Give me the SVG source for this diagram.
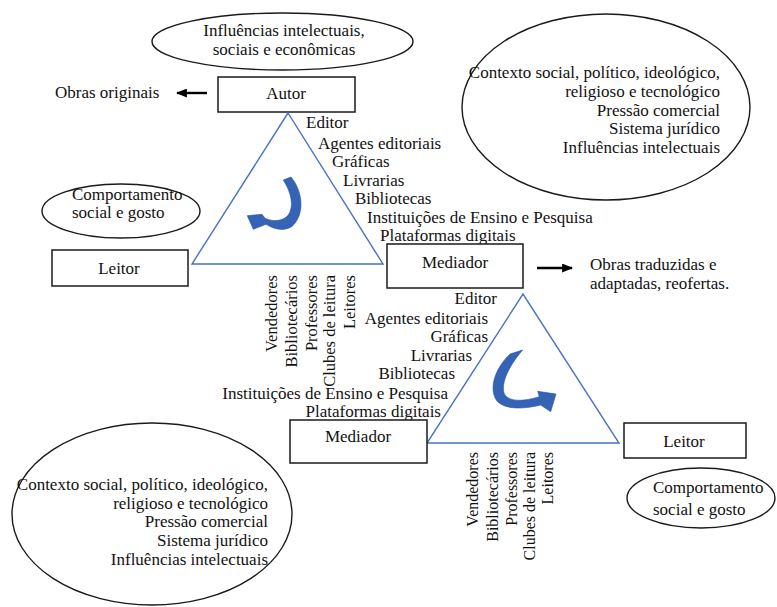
<svg xmlns="http://www.w3.org/2000/svg" width="777" height="607" viewBox="0 0 777 607">
<defs>
<style>
text{font-family:"Liberation Serif","Times New Roman",serif;font-size:17px;fill:#111}
.box{fill:#fff;stroke:#1a1a1a;stroke-width:1.5}
.ell{fill:#fff;stroke:#1a1a1a;stroke-width:1.4}
.tri{fill:none;stroke:#4472C4;stroke-width:1.4}
.turn{fill:#3563B5;stroke:#2A52A0;stroke-width:0.6}
.arr{stroke:#000;stroke-width:2.4;fill:none}
.c{text-anchor:middle}
.e{text-anchor:end}
.v{font-size:16.5px}
.v2{font-size:16px}
</style>
<marker id="ah" viewBox="0 0 10 10" refX="9" refY="5" markerWidth="11" markerHeight="9" orient="auto-start-reverse" markerUnits="userSpaceOnUse" preserveAspectRatio="none">
<path d="M0,0 L10,5 L0,10 Z" fill="#000"/>
</marker>
</defs>

<g id="influencias">
<ellipse class="ell" cx="282.5" cy="41.5" rx="130.5" ry="28.5"/>
<text class="c" x="284" y="36">Influências intelectuais,</text>
<text class="c" x="284" y="55">sociais e econômicas</text>
</g>

<g id="autor">
<rect class="box" x="218" y="77" width="137" height="35"/>
<text class="c" x="286" y="99">Autor</text>
</g>

<g id="obras-originais">
<text x="55" y="98">Obras originais</text>
</g>

<g id="contexto-1">
<ellipse class="ell" cx="606" cy="107" rx="144" ry="93"/>
<text class="e" x="720" y="78">Contexto social, político, ideológico,</text>
<text class="e" x="720" y="97">religioso e tecnológico</text>
<text class="e" x="720" y="116">Pressão comercial</text>
<text class="e" x="720" y="134">Sistema jurídico</text>
<text class="e" x="720" y="153">Influências intelectuais</text>
</g>

<g id="comportamento-1">
<ellipse class="ell" cx="121" cy="211" rx="79" ry="27"/>
<text x="72" y="200">Comportamento</text>
<text x="72" y="218">social e gosto</text>
</g>

<g id="leitor-1">
<rect class="box" x="52" y="250" width="136" height="36"/>
<text class="c" x="119" y="274">Leitor</text>
</g>

<g id="triangulo-1">
<polygon class="tri" points="288,113 192,264 383,264"/>
<path class="turn" d="M291,177 C303.3,191.7 305,215 291.7,226.7 C283.3,231.7 273.3,229 266,224.3 L253.3,229.3 L247.3,215.7 L262,214.3 L265,218.3 C273.3,222.3 283.3,221 288.3,215 C294,206.7 291.7,193.3 283.3,180 Z"/>
</g>

<g id="mediadores-1">
<text x="306" y="128">Editor</text>
<text x="318" y="149">Agentes editoriais</text>
<text x="332" y="167">Gráficas</text>
<text x="343" y="186">Livrarias</text>
<text x="355" y="204">Bibliotecas</text>
<text x="367" y="223">Instituições de Ensino e Pesquisa</text>
<text x="380" y="241">Plataformas digitais</text>
</g>

<g id="leitores-1">
<text class="e v" transform="translate(277,275) rotate(-90)">Vendedores</text>
<text class="e v" transform="translate(297,275) rotate(-90)">Bibliotecários</text>
<text class="e v" transform="translate(317,275) rotate(-90)">Professores</text>
<text class="e v" transform="translate(335,275) rotate(-90)">Clubes de leitura</text>
<text class="e v" transform="translate(355,275) rotate(-90)">Leitores</text>
</g>

<g id="mediador-1">
<rect class="box" x="387" y="244" width="136" height="44"/>
<text class="c" x="455" y="268">Mediador</text>
</g>

<g id="obras-traduzidas">
<text x="590" y="270">Obras traduzidas e</text>
<text x="590" y="289">adaptadas, reofertas.</text>
</g>

<g id="triangulo-2">
<polygon class="tri" points="523,294 427,443 619,443"/>
<path class="turn" d="M510,354 C495,368.3 488.3,388.3 496.7,400.7 C505,410 523.3,409.3 540.7,405 L550.7,411.7 L556,394 L537.7,391.3 L539.3,396.7 C523.3,401.7 510,401.7 505,395 C500,386.7 506.7,368.3 522.7,350 Z"/>
</g>

<g id="mediadores-2">
<text class="e" x="497" y="304">Editor</text>
<text class="e" x="488" y="324">Agentes editoriais</text>
<text class="e" x="488" y="342">Gráficas</text>
<text class="e" x="472" y="361">Livrarias</text>
<text class="e" x="455" y="379">Bibliotecas</text>
<text class="e" x="448" y="399">Instituições de Ensino e Pesquisa</text>
<text class="e" x="441" y="417">Plataformas digitais</text>
</g>

<g id="mediador-2">
<rect class="box" x="290" y="420" width="137" height="43"/>
<text class="c" x="358" y="442">Mediador</text>
</g>

<g id="leitor-2">
<rect class="box" x="624" y="423" width="122" height="35"/>
<text class="c" x="684" y="447">Leitor</text>
</g>

<g id="comportamento-2">
<ellipse class="ell" cx="701" cy="498" rx="74" ry="30"/>
<text x="653" y="493">Comportamento</text>
<text x="653" y="515">social e gosto</text>
</g>

<g id="leitores-2">
<text class="e v2" transform="translate(478,452) rotate(-90)">Vendedores</text>
<text class="e v2" transform="translate(498,452) rotate(-90)">Bibliotecários</text>
<text class="e v2" transform="translate(517,452) rotate(-90)">Professores</text>
<text class="e v2" transform="translate(535,452) rotate(-90)">Clubes de leitura</text>
<text class="e v2" transform="translate(553,452) rotate(-90)">Leitores</text>
</g>

<g id="contexto-2">
<ellipse class="ell" cx="152" cy="514" rx="140" ry="91"/>
<text class="e" x="268" y="490">Contexto social, político, ideológico,</text>
<text class="e" x="268" y="509">religioso e tecnológico</text>
<text class="e" x="268" y="527">Pressão comercial</text>
<text class="e" x="268" y="546">Sistema jurídico</text>
<text class="e" x="268" y="565">Influências intelectuais</text>
</g>

<g id="connectors">
<line class="arr" x1="207" y1="93" x2="177" y2="93" marker-end="url(#ah)"/>
<line class="arr" x1="537" y1="268" x2="572" y2="268" marker-end="url(#ah)"/>
</g>
</svg>
